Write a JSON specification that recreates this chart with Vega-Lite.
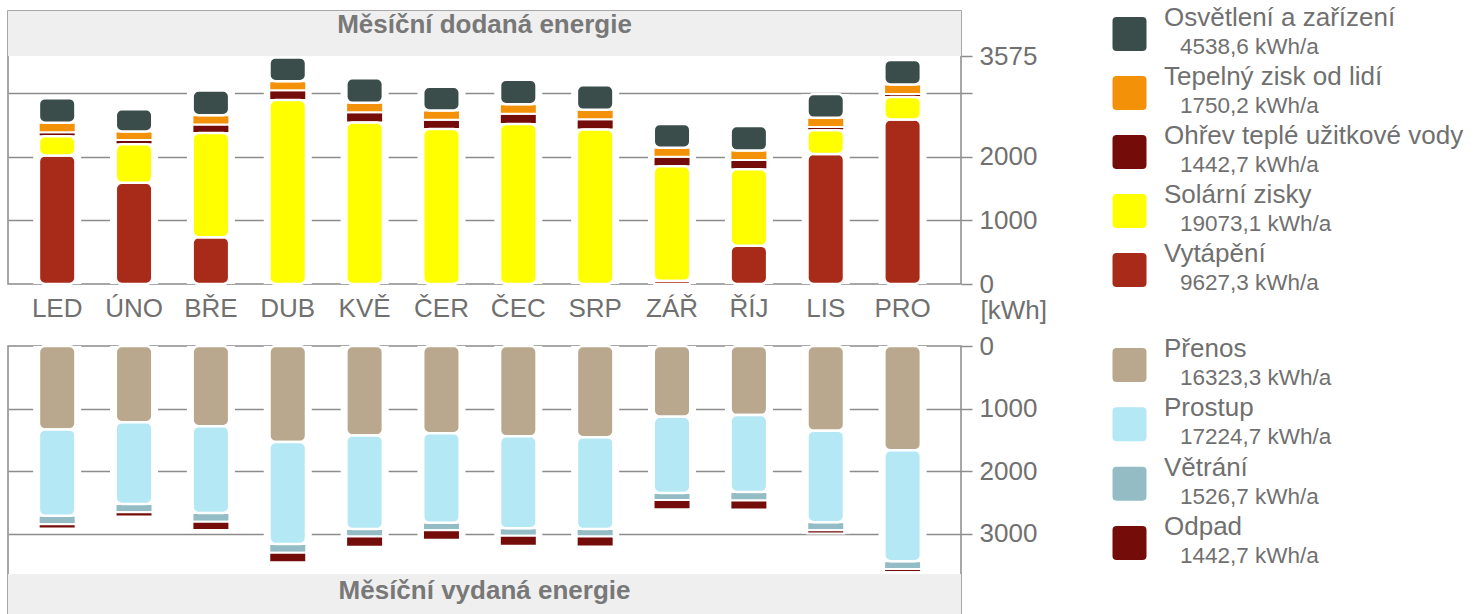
{
  "$schema": "https://vega.github.io/schema/vega-lite/v6.json",
  "padding": {"left": 7, "top": 5, "right": 0, "bottom": 0},
  "autosize": {"type": "pad"},
  "background": "white",
  "config": {
    "font": "Liberation Sans",
    "view": {"stroke": "#8a8a8a", "strokeWidth": 1.5},
    "axis": {"labelFont": "Liberation Sans", "labelFontSize": 26, "labelColor": "#707070", "titleColor": "#707070", "titleFont": "Liberation Sans"},
    "title": {"font": "Liberation Sans", "fontSize": 26, "fontWeight": "bold", "color": "#787878"}
  },
  "resolve": {"scale": {"color": "independent"}},
  "columns": 2,
  "spacing": {"row": 62, "column": 140},
  "bounds": "flush",
  "concat": [
    {
      "width": 953,
      "height": 273,
      "title": {"text": "Měsíční dodaná energie", "orient": "top", "anchor": "middle", "frame": "group", "offset": -48, "baseline": "alphabetic"},
      "data": {"values": [
        {"m": "LED", "c": "Vytápění", "v": 2020}, {"m": "LED", "c": "Solární zisky", "v": 300}, {"m": "LED", "c": "Ohřev teplé užitkové vody", "v": 66}, {"m": "LED", "c": "Tepelný zisk od lidí", "v": 148.6}, {"m": "LED", "c": "Osvětlení a zařízení", "v": 385.5},
        {"m": "ÚNO", "c": "Vytápění", "v": 1590}, {"m": "ÚNO", "c": "Solární zisky", "v": 605}, {"m": "ÚNO", "c": "Ohřev teplé užitkové vody", "v": 68}, {"m": "ÚNO", "c": "Tepelný zisk od lidí", "v": 134.3}, {"m": "ÚNO", "c": "Osvětlení a zařízení", "v": 348.2},
        {"m": "BŘE", "c": "Vytápění", "v": 736}, {"m": "BŘE", "c": "Solární zisky", "v": 1635}, {"m": "BŘE", "c": "Ohřev teplé užitkové vody", "v": 134}, {"m": "BŘE", "c": "Tepelný zisk od lidí", "v": 148.6}, {"m": "BŘE", "c": "Osvětlení a zařízení", "v": 385.5},
        {"m": "DUB", "c": "Solární zisky", "v": 2890}, {"m": "DUB", "c": "Ohřev teplé užitkové vody", "v": 153}, {"m": "DUB", "c": "Tepelný zisk od lidí", "v": 143.9}, {"m": "DUB", "c": "Osvětlení a zařízení", "v": 373.0},
        {"m": "KVĚ", "c": "Solární zisky", "v": 2536}, {"m": "KVĚ", "c": "Ohřev teplé užitkové vody", "v": 162}, {"m": "KVĚ", "c": "Tepelný zisk od lidí", "v": 148.6}, {"m": "KVĚ", "c": "Osvětlení a zařízení", "v": 385.5},
        {"m": "ČER", "c": "Solární zisky", "v": 2434}, {"m": "ČER", "c": "Ohřev teplé užitkové vody", "v": 149}, {"m": "ČER", "c": "Tepelný zisk od lidí", "v": 143.9}, {"m": "ČER", "c": "Osvětlení a zařízení", "v": 373.0},
        {"m": "ČEC", "c": "Solární zisky", "v": 2516}, {"m": "ČEC", "c": "Ohřev teplé užitkové vody", "v": 160}, {"m": "ČEC", "c": "Tepelný zisk od lidí", "v": 148.6}, {"m": "ČEC", "c": "Osvětlení a zařízení", "v": 385.5},
        {"m": "SRP", "c": "Solární zisky", "v": 2429}, {"m": "SRP", "c": "Ohřev teplé užitkové vody", "v": 160}, {"m": "SRP", "c": "Tepelný zisk od lidí", "v": 148.6}, {"m": "SRP", "c": "Osvětlení a zařízení", "v": 385.5},
        {"m": "ZÁŘ", "c": "Vytápění", "v": 50}, {"m": "ZÁŘ", "c": "Solární zisky", "v": 1800}, {"m": "ZÁŘ", "c": "Ohřev teplé užitkové vody", "v": 148}, {"m": "ZÁŘ", "c": "Tepelný zisk od lidí", "v": 143.9}, {"m": "ZÁŘ", "c": "Osvětlení a zařízení", "v": 373.0},
        {"m": "ŘÍJ", "c": "Vytápění", "v": 602}, {"m": "ŘÍJ", "c": "Solární zisky", "v": 1201}, {"m": "ŘÍJ", "c": "Ohřev teplé užitkové vody", "v": 145}, {"m": "ŘÍJ", "c": "Tepelný zisk od lidí", "v": 148.6}, {"m": "ŘÍJ", "c": "Osvětlení a zařízení", "v": 385.5},
        {"m": "LIS", "c": "Vytápění", "v": 2044}, {"m": "LIS", "c": "Solární zisky", "v": 373}, {"m": "LIS", "c": "Ohřev teplé užitkové vody", "v": 50}, {"m": "LIS", "c": "Tepelný zisk od lidí", "v": 143.9}, {"m": "LIS", "c": "Osvětlení a zařízení", "v": 373.0},
        {"m": "PRO", "c": "Vytápění", "v": 2585}, {"m": "PRO", "c": "Solární zisky", "v": 354}, {"m": "PRO", "c": "Ohřev teplé užitkové vody", "v": 48}, {"m": "PRO", "c": "Tepelný zisk od lidí", "v": 148.6}, {"m": "PRO", "c": "Osvětlení a zařízení", "v": 385.5}
      ]},
      "transform": [{"stack": "v", "groupby": ["m"], "as": ["v0", "v1"]}],
      "layer": [
        {
          "mark": {"type": "rect", "color": "#efefef"},
          "encoding": {
            "y": {"datum": 3585, "type": "quantitative", "title": "[kWh]",
              "scale": {"domain": [0, 4290], "nice": false, "zero": true},
              "axis": {
                "orient": "right", "values": [0, 1000, 2000, 3000, 3575], "format": "d",
                "labelExpr": "datum.value == 3000 ? '' : datum.label",
                "grid": true, "gridColor": "#8c8c8c", "gridWidth": 1.5,
                "gridOpacity": {"condition": {"test": "datum.value == 0 || datum.value == 3575", "value": 0}, "value": 1},
                "ticks": true, "tickSize": 11, "tickColor": "#8c8c8c", "tickWidth": 1.5,
                "domain": false, "labelPadding": 7, "labelOverlap": false, "labelFlush": false,
                "title": "[kWh]", "titleAngle": 0, "titleAlign": "left", "titleBaseline": "alphabetic",
                "titleX": 19, "titleY": 307, "titleFontSize": 26, "titleFontWeight": "normal"
              }},
            "y2": {"datum": 4290}
          }
        },
        {
          "mark": {"type": "bar", "size": 48, "color": "white"},
          "encoding": {
            "x": {"field": "m", "type": "nominal", "title": null,
              "scale": {"domain": ["LED", "ÚNO", "BŘE", "DUB", "KVĚ", "ČER", "ČEC", "SRP", "ZÁŘ", "ŘÍJ", "LIS", "PRO"], "paddingInner": 0, "paddingOuter": 0.2, "align": 0.35},
              "axis": {"title": null, "labelAngle": 0, "ticks": false, "domain": false, "labelPadding": 11, "grid": false}},
            "y": {"aggregate": "sum", "field": "v", "type": "quantitative", "title": "[kWh]"}
          }
        },
        {
          "transform": [{"filter": {"field": "c", "oneOf": ["Tepelný zisk od lidí", "Ohřev teplé užitkové vody"]}}],
          "mark": {"type": "bar", "size": 37, "stroke": "white", "strokeWidth": 2},
          "encoding": {
            "x": {"field": "m", "type": "nominal", "title": null},
            "y": {"field": "v1", "type": "quantitative", "title": "[kWh]"},
            "y2": {"field": "v0"},
            "color": {"field": "c", "type": "nominal", "legend": null,
              "scale": {"domain": ["Osvětlení a zařízení", "Tepelný zisk od lidí", "Ohřev teplé užitkové vody", "Solární zisky", "Vytápění"],
                        "range": ["#3a4d4b", "#f39208", "#740c09", "#ffff00", "#a82a18"]}}
          }
        },
        {
          "transform": [{"filter": {"field": "c", "oneOf": ["Osvětlení a zařízení", "Solární zisky", "Vytápění"]}}],
          "mark": {"type": "bar", "size": 36.5, "stroke": "white", "strokeWidth": 2.5, "cornerRadius": 6},
          "encoding": {
            "x": {"field": "m", "type": "nominal", "title": null},
            "y": {"field": "v1", "type": "quantitative", "title": "[kWh]"},
            "y2": {"field": "v0"},
            "color": {"field": "c", "type": "nominal", "legend": null}
          }
        }
      ]
    },
    {
      "width": 383,
      "height": 273,
      "view": {"stroke": null},
      "data": {"values": [
        {"c": "Osvětlení a zařízení", "t": "4538,6 kWh/a"},
        {"c": "Tepelný zisk od lidí", "t": "1750,2 kWh/a"},
        {"c": "Ohřev teplé užitkové vody", "t": "1442,7 kWh/a"},
        {"c": "Solární zisky", "t": "19073,1 kWh/a"},
        {"c": "Vytápění", "t": "9627,3 kWh/a"}
      ]},
      "encoding": {
        "y": {"field": "c", "type": "nominal", "sort": null, "axis": null, "scale": {"type": "point", "range": [23, 259], "padding": 0}}
      },
      "layer": [
        {
          "mark": {"type": "point", "shape": "M-0.76,-1H0.76Q1,-1 1,-0.76V0.76Q1,1 0.76,1H-0.76Q-1,1 -1,0.76V-0.76Q-1,-1 -0.76,-1Z", "filled": true, "size": 1156, "opacity": 1, "strokeWidth": 0},
          "encoding": {
            "x": {"datum": 28.5, "type": "quantitative", "scale": {"domain": [0, 383], "nice": false, "zero": true}, "axis": null},
            "color": {"field": "c", "type": "nominal", "legend": null,
              "scale": {"domain": ["Osvětlení a zařízení", "Tepelný zisk od lidí", "Ohřev teplé užitkové vody", "Solární zisky", "Vytápění"],
                        "range": ["#3a4d4b", "#f39208", "#740c09", "#ffff00", "#a82a18"]}}
          }
        },
        {
          "mark": {"type": "text", "align": "left", "baseline": "alphabetic", "dy": -8, "fontSize": 26, "color": "#707070"},
          "encoding": {"x": {"datum": 63, "type": "quantitative"}, "text": {"field": "c"}}
        },
        {
          "mark": {"type": "text", "align": "left", "baseline": "alphabetic", "dy": 20, "fontSize": 22.5, "color": "#707070"},
          "encoding": {"x": {"datum": 79, "type": "quantitative"}, "text": {"field": "t"}}
        }
      ]
    },
    {
      "width": 953,
      "height": 268,
      "title": {"text": "Měsíční vydaná energie", "orient": "bottom", "anchor": "middle", "frame": "group", "offset": -15, "baseline": "alphabetic"},
      "data": {"values": [
        {"m": "LED", "c": "Přenos", "v": 1332}, {"m": "LED", "c": "Prostup", "v": 1379}, {"m": "LED", "c": "Větrání", "v": 134}, {"m": "LED", "c": "Odpad", "v": 66},
        {"m": "ÚNO", "c": "Přenos", "v": 1216}, {"m": "ÚNO", "c": "Prostup", "v": 1304}, {"m": "ÚNO", "c": "Větrání", "v": 134}, {"m": "ÚNO", "c": "Odpad", "v": 68},
        {"m": "BŘE", "c": "Přenos", "v": 1280}, {"m": "BŘE", "c": "Prostup", "v": 1384}, {"m": "BŘE", "c": "Větrání", "v": 140}, {"m": "BŘE", "c": "Odpad", "v": 134},
        {"m": "DUB", "c": "Přenos", "v": 1532}, {"m": "DUB", "c": "Prostup", "v": 1629}, {"m": "DUB", "c": "Větrání", "v": 137}, {"m": "DUB", "c": "Odpad", "v": 153},
        {"m": "KVĚ", "c": "Přenos", "v": 1428}, {"m": "KVĚ", "c": "Prostup", "v": 1493}, {"m": "KVĚ", "c": "Větrání", "v": 121}, {"m": "KVĚ", "c": "Odpad", "v": 162},
        {"m": "ČER", "c": "Přenos", "v": 1391}, {"m": "ČER", "c": "Prostup", "v": 1431}, {"m": "ČER", "c": "Větrání", "v": 120}, {"m": "ČER", "c": "Odpad", "v": 149},
        {"m": "ČEC", "c": "Přenos", "v": 1441}, {"m": "ČEC", "c": "Prostup", "v": 1468}, {"m": "ČEC", "c": "Větrání", "v": 120}, {"m": "ČEC", "c": "Odpad", "v": 160},
        {"m": "SRP", "c": "Přenos", "v": 1455}, {"m": "SRP", "c": "Prostup", "v": 1466}, {"m": "SRP", "c": "Větrání", "v": 120}, {"m": "SRP", "c": "Odpad", "v": 160},
        {"m": "ZÁŘ", "c": "Přenos", "v": 1129}, {"m": "ZÁŘ", "c": "Prostup", "v": 1216}, {"m": "ZÁŘ", "c": "Větrání", "v": 112}, {"m": "ZÁŘ", "c": "Odpad", "v": 148},
        {"m": "ŘÍJ", "c": "Přenos", "v": 1102}, {"m": "ŘÍJ", "c": "Prostup", "v": 1228}, {"m": "ŘÍJ", "c": "Větrání", "v": 135}, {"m": "ŘÍJ", "c": "Odpad", "v": 145},
        {"m": "LIS", "c": "Přenos", "v": 1352}, {"m": "LIS", "c": "Prostup", "v": 1459}, {"m": "LIS", "c": "Větrání", "v": 131}, {"m": "LIS", "c": "Odpad", "v": 50},
        {"m": "PRO", "c": "Přenos", "v": 1665}, {"m": "PRO", "c": "Prostup", "v": 1769}, {"m": "PRO", "c": "Větrání", "v": 123}, {"m": "PRO", "c": "Odpad", "v": 48}
      ]},
      "transform": [{"stack": "v", "groupby": ["m"], "as": ["v0", "v1"]}],
      "layer": [
        {
          "mark": {"type": "rect", "color": "#efefef"},
          "encoding": {
            "y": {"datum": 3650, "type": "quantitative",
              "scale": {"domain": [0, 4277], "nice": false, "zero": true, "reverse": true},
              "axis": {
                "orient": "right", "values": [0, 1000, 2000, 3000], "format": "d",
                "grid": true, "gridColor": "#8c8c8c", "gridWidth": 1.5,
                "gridOpacity": {"condition": {"test": "datum.value == 0", "value": 0}, "value": 1},
                "ticks": true, "tickSize": 11, "tickColor": "#8c8c8c", "tickWidth": 1.5,
                "domain": false, "labelPadding": 7, "labelOverlap": false, "labelFlush": false,
                "title": null
              }},
            "y2": {"datum": 4277}
          }
        },
        {
          "mark": {"type": "bar", "size": 48, "color": "white"},
          "encoding": {
            "x": {"field": "m", "type": "nominal",
              "scale": {"domain": ["LED", "ÚNO", "BŘE", "DUB", "KVĚ", "ČER", "ČEC", "SRP", "ZÁŘ", "ŘÍJ", "LIS", "PRO"], "paddingInner": 0, "paddingOuter": 0.2, "align": 0.35},
              "axis": null},
            "y": {"aggregate": "sum", "field": "v", "type": "quantitative", "title": null}
          }
        },
        {
          "transform": [{"filter": {"field": "c", "oneOf": ["Větrání", "Odpad"]}}],
          "mark": {"type": "bar", "size": 37, "stroke": "white", "strokeWidth": 2},
          "encoding": {
            "x": {"field": "m", "type": "nominal", "axis": null},
            "y": {"field": "v1", "type": "quantitative", "title": null},
            "y2": {"field": "v0"},
            "color": {"field": "c", "type": "nominal", "legend": null,
              "scale": {"domain": ["Přenos", "Prostup", "Větrání", "Odpad"],
                        "range": ["#b9a88d", "#b4e8f4", "#93bcc5", "#740c09"]}}
          }
        },
        {
          "transform": [{"filter": {"field": "c", "oneOf": ["Přenos", "Prostup"]}}],
          "mark": {"type": "bar", "size": 36.5, "stroke": "white", "strokeWidth": 2.5, "cornerRadius": 6},
          "encoding": {
            "x": {"field": "m", "type": "nominal", "axis": null},
            "y": {"field": "v1", "type": "quantitative", "title": null},
            "y2": {"field": "v0"},
            "color": {"field": "c", "type": "nominal", "legend": null}
          }
        }
      ]
    },
    {
      "width": 383,
      "height": 268,
      "view": {"stroke": null},
      "data": {"values": [
        {"c": "Přenos", "t": "16323,3 kWh/a"},
        {"c": "Prostup", "t": "17224,7 kWh/a"},
        {"c": "Větrání", "t": "1526,7 kWh/a"},
        {"c": "Odpad", "t": "1442,7 kWh/a"}
      ]},
      "encoding": {
        "y": {"field": "c", "type": "nominal", "sort": null, "axis": null, "scale": {"type": "point", "range": [19, 197], "padding": 0}}
      },
      "layer": [
        {
          "mark": {"type": "point", "shape": "M-0.76,-1H0.76Q1,-1 1,-0.76V0.76Q1,1 0.76,1H-0.76Q-1,1 -1,0.76V-0.76Q-1,-1 -0.76,-1Z", "filled": true, "size": 1156, "opacity": 1, "strokeWidth": 0},
          "encoding": {
            "x": {"datum": 28.5, "type": "quantitative", "scale": {"domain": [0, 383], "nice": false, "zero": true}, "axis": null},
            "color": {"field": "c", "type": "nominal", "legend": null,
              "scale": {"domain": ["Přenos", "Prostup", "Větrání", "Odpad"],
                        "range": ["#b9a88d", "#b4e8f4", "#93bcc5", "#740c09"]}}
          }
        },
        {
          "mark": {"type": "text", "align": "left", "baseline": "alphabetic", "dy": -8, "fontSize": 26, "color": "#707070"},
          "encoding": {"x": {"datum": 63, "type": "quantitative"}, "text": {"field": "c"}}
        },
        {
          "mark": {"type": "text", "align": "left", "baseline": "alphabetic", "dy": 20, "fontSize": 22.5, "color": "#707070"},
          "encoding": {"x": {"datum": 79, "type": "quantitative"}, "text": {"field": "t"}}
        }
      ]
    }
  ]
}
